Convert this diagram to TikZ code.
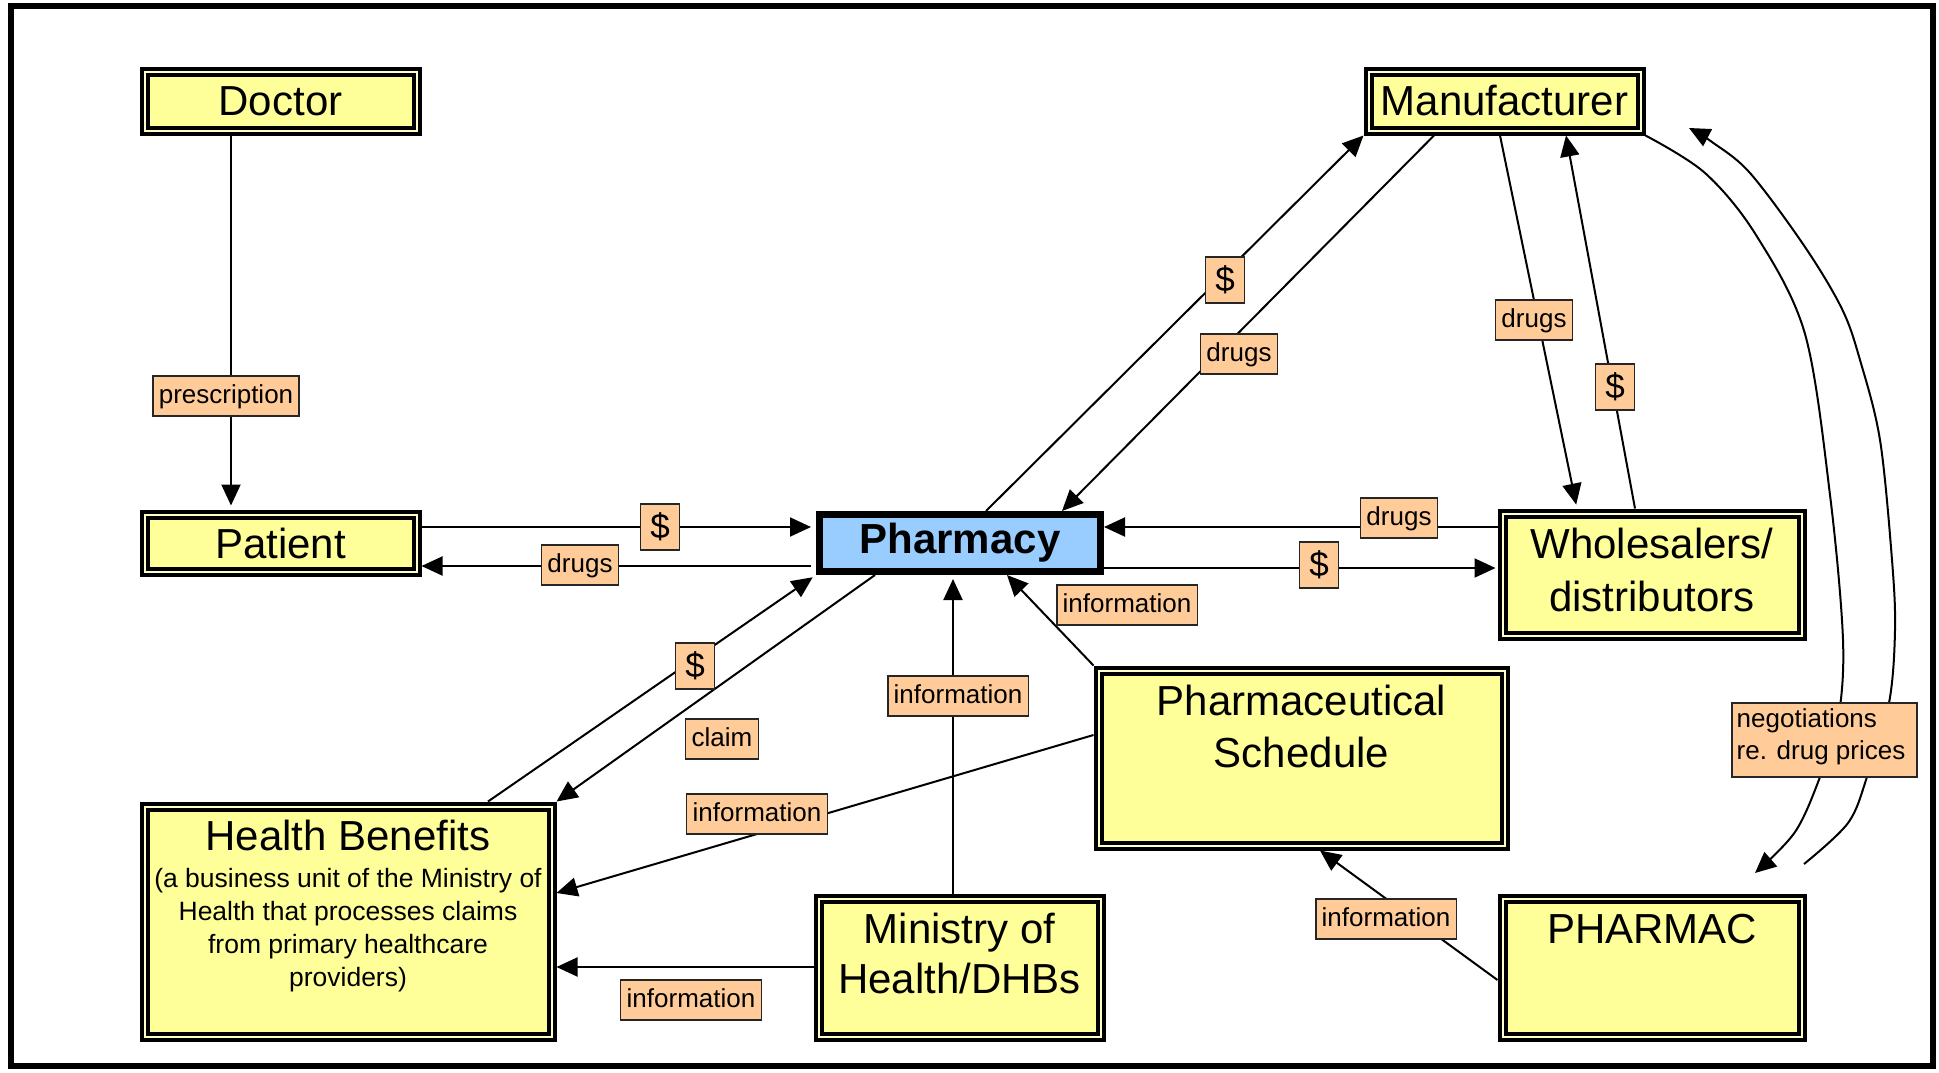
\documentclass[tikz,border=0pt]{standalone}
\usepackage{fontspec}
\setmainfont{Liberation Sans}
\usetikzlibrary{arrows.meta}
\definecolor{boxyellow}{HTML}{FFFF99}
\definecolor{gapyellow}{HTML}{FFFFCC}
\definecolor{lblorange}{HTML}{FFCC99}
\definecolor{pharmblue}{HTML}{99CCFF}
\begin{document}
\begin{tikzpicture}[x=0.5pt,y=-0.5pt,
  ybox/.style={draw=black, line width=2pt, double=gapyellow, double distance=1pt, fill=boxyellow, inner sep=0pt, outer sep=2.5pt, font=\fontsize{21}{25}\selectfont},
  pbox/.style={draw=black, line width=3.5pt, fill=pharmblue, inner sep=0pt, outer sep=1.75pt, font=\fontsize{21}{25}\selectfont\bfseries},
  btxt/.style={anchor=base, inner sep=0pt, font=\fontsize{21}{25}\selectfont},
  stxt/.style={anchor=base, inner sep=0pt, font=\fontsize{13.25}{16.5}\selectfont},
  lbl/.style={draw=black!85, line width=0.8pt, fill=lblorange, inner xsep=3pt, inner ysep=0pt, text height=10pt, text depth=3pt, minimum height=20pt, font=\fontsize{13}{16}\selectfont},
  dlr/.style={draw=black!85, line width=0.8pt, fill=lblorange, inner sep=0pt, minimum width=19.5pt, minimum height=23pt, text height=13pt, text depth=2pt, font=\fontsize{17.5}{20}\selectfont},
  conn/.style={line width=1pt},
  arr/.style={conn, -{Triangle[length=10.5pt,width=9.5pt]}}
]
\useasboundingbox (0,0) rectangle (1939,1072);
\draw[line width=3pt] (11,6) rectangle (1933,1066);

% boxes
\node[ybox, minimum width=136pt, minimum height=29.5pt] (doc) at (280.5,101) {Doctor};
\node[ybox, minimum width=136pt, minimum height=29.5pt] (manu) at (1504.5,101) {Manufacturer};
\node[ybox, minimum width=136pt, minimum height=28.5pt] (pat) at (280.5,543) {Patient};
\node[pbox, minimum width=140.5pt, minimum height=28.5pt] (pharm) at (960,543) {Pharmacy};
\node[ybox, minimum width=149.5pt, minimum height=61pt] (whole) at (1652,574.5) {};
\node[ybox, minimum width=203pt, minimum height=87.5pt] (ps) at (1301.5,758) {};
\node[ybox, minimum width=149.5pt, minimum height=69pt] (pmac) at (1652,967.5) {};
\node[ybox, minimum width=203.5pt, minimum height=115pt] (hb) at (348,921.5) {};
\node[ybox, minimum width=141pt, minimum height=69pt] (min) at (959.5,967.5) {};

% box texts
\node[btxt] (wh1) at (1652,558) {Wholesalers/};
\node[btxt] (wh2) at (1652,611) {distributors};
\node[btxt] (ps1) at (1301.5,715) {Pharmaceutical};
\node[btxt] (ps2) at (1301.5,767) {Schedule};
\node[btxt] (pm1) at (1652,943) {PHARMAC};
\node[btxt] (mi1) at (959.5,943) {Ministry of};
\node[btxt] (mi2) at (959.5,993) {Health/DHBs};
\node[btxt] (hb0) at (348,850) {Health Benefits};
\node[stxt] (hb1) at (348,887) {(a business unit of the Ministry of};
\node[stxt] (hb2) at (348,920) {Health that processes claims};
\node[stxt] (hb3) at (348,953) {from primary healthcare};
\node[stxt] (hb4) at (348,986) {providers)};

% connectors
\draw[arr, shorten >=2pt] (doc.south -| 231,0) -- (pat.north -| 231,0);
\draw[arr, shorten >=2.5pt] (pat.east |- 0,527) -- (pharm.west |- 0,527);
\draw[arr, shorten <=2.5pt] (pharm.west |- 0,566) -- (pat.east |- 0,566);
\draw[arr] (whole.west |- 0,527) -- (pharm.east |- 0,527);
\draw[arr, shorten >=1pt] (pharm.east |- 0,568) -- (whole.west |- 0,568);
\draw[arr] (pharm.north -| 986,0) -- (manu.south west);
\draw[arr] (manu.south -| 1434,0) -- (pharm.north -| 1062,0);
\draw[arr, shorten >=2pt] (manu.south -| 1500,0) -- (whole.north -| 1577,0);
\draw[arr] (whole.north -| 1635,0) -- (manu.south -| 1566,0);
\draw[arr] (pharm.south -| 875,0) -- (hb.north east);
\draw[arr, shorten >=2pt] (hb.north -| 488,0) -- (pharm.south west);
\draw[arr, shorten >=2pt] (min.north -| 953,0) -- (pharm.south -| 953,0);
\draw[arr] (ps.north west) -- (pharm.south -| 1007,0);
\draw[arr] (ps.west |- 0,735) -- (hb.east |- 0,893);
\draw[arr] (min.west |- 0,967) -- (hb.east |- 0,967);
\draw[arr] (pmac.west |- 0,980) -- (ps.south -| 1320,0);

% negotiation curves
\coordinate (ntipA) at (1755,873);
\coordinate (nstartB) at (1804,864);
\coordinate (ntipB) at (1689,128);
\draw[arr] plot[smooth, tension=0.55] coordinates {(manu.south east) (1705,173) (1756,235) (1805,334) (1830,495) (1843,640) (1838,720) (1820,777) (1795,832) (ntipA)};
\draw[arr] plot[smooth, tension=0.55] coordinates {(nstartB) (1848,823) (1867,777) (1889,703) (1895,630) (1892,560) (1880,440) (1860,360) (1842,309) (1805,247) (1750,173) (1712,142) (ntipB)};

% labels
\node[lbl] (lpresc) at (226,396) {prescription\hspace{3.5pt}};
\node[dlr] (ld1) at (660,527) {\$};
\node[lbl] (lg1) at (580,565) {drugs\hspace{3.5pt}};
\node[lbl] (lg2) at (1399,518) {drugs\hspace{3.5pt}};
\node[dlr] (ld2) at (1319,565) {\$};
\node[dlr] (ld3) at (1225,280) {\$};
\node[lbl] (lg3) at (1239,354) {drugs\hspace{3.5pt}};
\node[lbl] (lg4) at (1534,320) {drugs\hspace{3.5pt}};
\node[dlr] (ld4) at (1615,387) {\$};
\node[lbl] (lclaim) at (722,739) {claim\hspace{3.5pt}};
\node[dlr] (ld5) at (695,666) {\$};
\node[lbl] (li1) at (958,696) {information\hspace{3.5pt}};
\node[lbl] (li2) at (1127,605) {information\hspace{3.5pt}};
\node[lbl] (li3) at (757,814) {information\hspace{3.5pt}};
\node[lbl] (li4) at (691,1000) {information\hspace{3.5pt}};
\node[lbl] (li5) at (1386,919) {information\hspace{3.5pt}};
\node[draw=black!85, line width=0.8pt, fill=lblorange, inner sep=0pt, minimum width=92.5pt, minimum height=37pt] (lneg) at (1824.5,740) {};
\node[align=left, inner sep=0pt, font=\fontsize{13}{16}\selectfont] (lnegt) at (1821,737) {negotiations\\re. drug prices};
\end{tikzpicture}
\end{document}
